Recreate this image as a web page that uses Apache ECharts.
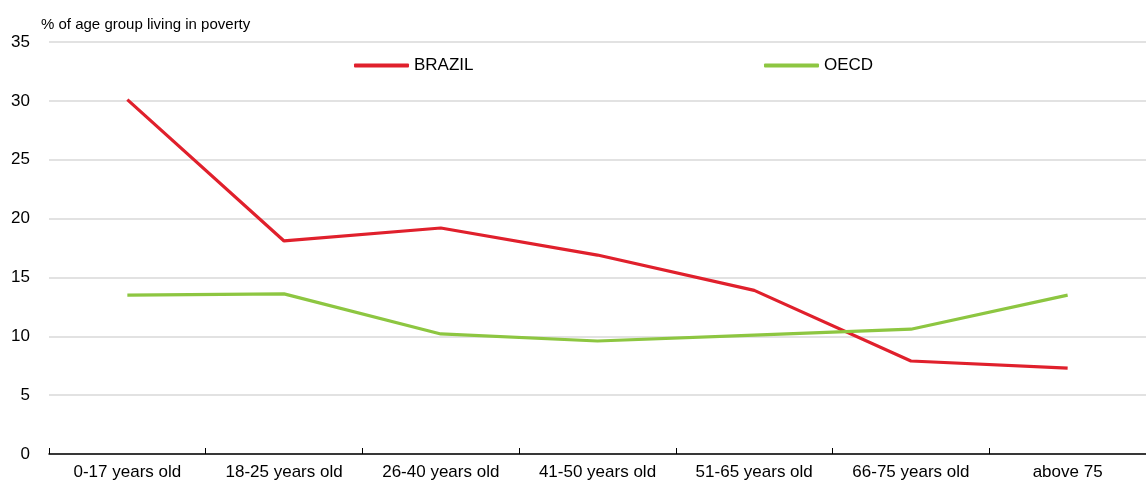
<!DOCTYPE html>
<html>
<head>
<meta charset="utf-8">
<script src="https://cdn.jsdelivr.net/npm/echarts@6/dist/echarts.min.js"></script>
<style>
    html, body { margin: 0; padding: 0; background: #fff; }
    #main { width: 1146px; height: 482px; }
</style>
</head>
<body>
<div id="main"></div>
<script>
// 数据
var categories = ['0-17 years old', '18-25 years old', '26-40 years old', '41-50 years old',
    '51-65 years old', '66-75 years old', 'above 75'];
var brazil = [30.1, 18.1, 19.2, 16.9, 13.9, 7.9, 7.3];
var oecd = [13.5, 13.6, 10.2, 9.6, 10.1, 10.6, 13.5];

var myChart = echarts.init(document.getElementById('main'));

var font = 'Liberation Sans, Arial, sans-serif';

var legendBase = {
    top: 57,
    padding: 0,
    icon: 'roundRect',
    itemWidth: 55,
    itemHeight: 4,
    textStyle: { fontSize: 17, color: '#000', fontFamily: font }
};

var option = {
    animation: false,
    textStyle: { fontFamily: font },
    title: {
        text: '% of age group living in poverty',
        left: 36,
        top: 12,
        textStyle: { fontSize: 15, fontWeight: 'normal', color: '#000', fontFamily: font }
    },
    //两个图例分开放
    legend: [
        Object.assign({}, legendBase, { data: ['BRAZIL'], left: 354 }),
        Object.assign({}, legendBase, { data: ['OECD'], left: 764 })
    ],
    grid: {
        left: 49,
        right: -11,
        top: 42,
        bottom: 28
    },
    xAxis: {
        type: 'category',
        data: categories,
        boundaryGap: true,
        axisLine: { lineStyle: { color: '#000', width: 1.5 } },
        axisTick: { show: true, length: 6, inside: true, lineStyle: { color: '#000' } },
        axisLabel: { fontSize: 17, color: '#000', margin: 10, fontFamily: font }
    },
    yAxis: {
        type: 'value',
        min: 0,
        max: 35,
        interval: 5,
        axisLine: { show: false },
        axisTick: { show: false },
        axisLabel: { fontSize: 17, color: '#000', margin: 19, fontFamily: font },
        splitLine: { lineStyle: { color: '#d9d9d9', width: 1.5 } }
    },
    series: [{
        name: 'BRAZIL',
        type: 'line',
        data: brazil,
        symbol: 'none',
        color: '#e0202c',
        lineStyle: { width: 3.2, color: '#e0202c' }
    }, {
        name: 'OECD',
        type: 'line',
        data: oecd,
        symbol: 'none',
        color: '#8dc641',
        lineStyle: { width: 3.2, color: '#8dc641' }
    }]
};

myChart.setOption(option);
</script>
</body>
</html>
